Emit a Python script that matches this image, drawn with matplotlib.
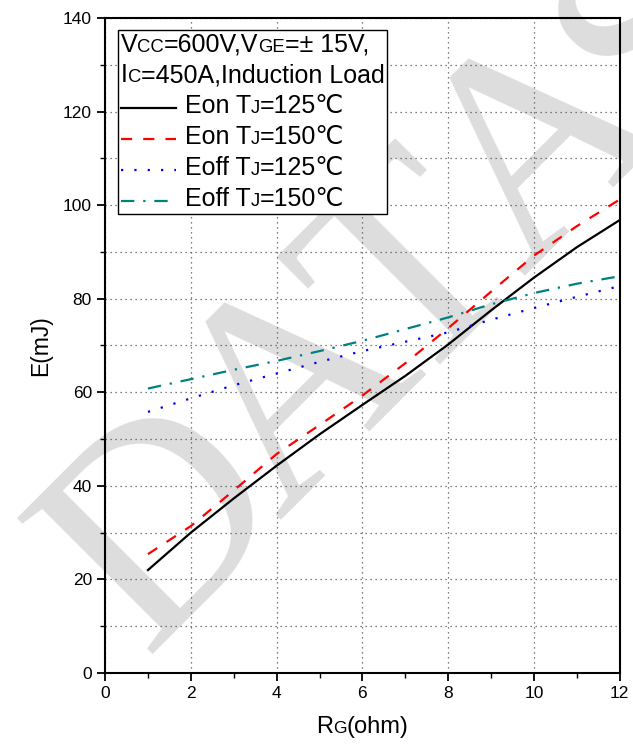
import math
import matplotlib
matplotlib.use("Agg")
import matplotlib.pyplot as plt
from matplotlib.ticker import MultipleLocator
from matplotlib.offsetbox import (TextArea, HPacker, VPacker, DrawingArea,
                                  AnchoredOffsetbox)
from matplotlib.lines import Line2D

FAM = ['Liberation Sans', 'DejaVu Sans']
plt.rcParams['font.family'] = FAM

rg = [1, 2, 3, 4, 5, 6, 7, 8, 9, 10, 11, 12]
eon_125 = [22.0, 30.0, 37.3, 44.3, 51.0, 57.3, 63.5, 70.2, 77.5, 84.5, 91.0, 96.8]
eon_150 = [25.4, 31.4, 39.0, 46.8, 53.0, 59.3, 66.2, 73.7, 81.5, 89.2, 95.5, 101.2]
eoff_125 = [55.8, 58.7, 61.5, 64.0, 66.5, 68.8, 70.8, 72.8, 75.5, 78.0, 80.4, 82.7]
eoff_150 = [60.8, 62.8, 64.8, 66.7, 68.8, 71.0, 73.5, 76.0, 78.8, 81.2, 83.2, 84.8]

# label pieces: (normal, small-caps) alternating
labels = [["Eon T", "J", "=125℃"], ["Eon T", "J", "=150℃"],
          ["Eoff T", "J", "=125℃"], ["Eoff T", "J", "=150℃"]]
title_lines = [["V", "CC", "=600V,V", "GE", "=± 15V,"],
               ["I", "C", "=450A,Induction Load"]]
xlabel_parts = ["R", "G", "(ohm)"]
watermark = ["D", "A", "T", "A", "S"]

colors = ['black', 'red', 'blue', '#008080']
styles = ['-', (0, (5, 5)), (0, (1, 5)), (0, (6, 4, 1, 4))]
series = [eon_125, eon_150, eoff_125, eoff_150]

LFS = 18
SC = 0.74
W, H = 633, 749


def rich(parts, size):
    boxes = []
    for i, p in enumerate(parts):
        fs = size if i % 2 == 0 else size * SC
        boxes.append(TextArea(p, textprops=dict(size=fs, family=FAM, color='black')))
    return HPacker(children=boxes, sep=0, pad=0, align='baseline')


fig = plt.figure(figsize=(W / 100, H / 100), dpi=100)
ax = fig.add_axes([0.166, 0.1015, 0.813, 0.8745])
ax.set_facecolor('none')
ax.set_zorder(2)

# watermark letters placed along a 45 degree baseline (pixel offsets along it)
wm_offsets = [-189, 0, 182, 345, 534]
ox, oy = 278, 520
c45 = math.cos(math.radians(45))
for ch, s in zip(watermark, wm_offsets):
    x = ox + s * c45
    y = oy - s * c45
    fig.text(x / W, 1 - y / H, ch, fontsize=210, family='Liberation Serif',
             color='#dddddd', rotation=45, rotation_mode='anchor',
             ha='left', va='baseline', zorder=0)

for y, c, ls in zip(series, colors, styles):
    ax.plot(rg, y, color=c, lw=1.6, ls=ls, zorder=3)

ax.set_xlim(0, 12)
ax.set_ylim(0, 140)
ax.xaxis.set_major_locator(MultipleLocator(2))
ax.xaxis.set_minor_locator(MultipleLocator(1))
ax.yaxis.set_major_locator(MultipleLocator(20))
ax.yaxis.set_minor_locator(MultipleLocator(10))
ax.tick_params(which='major', direction='out', length=6, width=1.3, labelsize=12.5)
ax.tick_params(which='minor', direction='out', length=3.5, width=1.0)
ax.grid(True, which='major', axis='x', color='#555555', ls=(0, (1, 3)), lw=0.9)
ax.grid(True, which='both', axis='y', color='#555555', ls=(0, (1, 3)), lw=0.9)
for s in ax.spines.values():
    s.set_linewidth(1.5)

ax.set_ylabel("E(mJ)", fontsize=16.5, labelpad=8)

# x label with small-caps subscript
xl = AnchoredOffsetbox(loc='upper center', child=rich(xlabel_parts, 17),
                       bbox_to_anchor=(0.5, -0.066), bbox_transform=ax.transAxes,
                       frameon=False, pad=0, borderpad=0)
xl.set_clip_on(False)
ax.add_artist(xl)

# custom legend
rows = [rich(t, LFS) for t in title_lines]
HW = 40
for lab, c, ls in zip(labels, colors, styles):
    da = DrawingArea(HW, 14, 0, 0)
    da.add_artist(Line2D([0, HW], [6, 6], color=c, lw=1.6, ls=ls))
    rows.append(HPacker(children=[da, rich(lab, LFS)], sep=6, pad=0, align='center'))
vp = VPacker(children=rows, sep=5, pad=0, align='left')
leg = AnchoredOffsetbox(loc='upper left', child=vp, bbox_to_anchor=(0.025, 0.982),
                        bbox_transform=ax.transAxes, frameon=True, pad=0.2,
                        borderpad=0)
leg.patch.set_boxstyle('square', pad=0)
leg.patch.set_edgecolor('black')
leg.patch.set_linewidth(1.0)
leg.patch.set_facecolor('white')
leg.set_zorder(5)
ax.add_artist(leg)

fig.savefig("out.png", dpi=100)
